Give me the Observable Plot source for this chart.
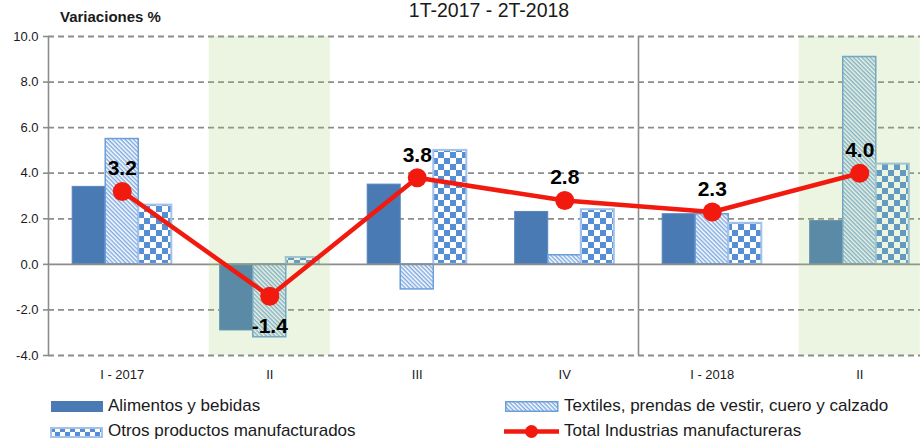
<!DOCTYPE html>
<html>
<head>
<meta charset="utf-8">
<script src="https://cdn.jsdelivr.net/npm/d3@7"></script>
<script src="https://cdn.jsdelivr.net/npm/@observablehq/plot@0.6"></script>
<style>
  html, body { margin: 0; padding: 0; background: #fff; }
  body { width: 920px; height: 442px; overflow: hidden; position: relative;
         font-family: "Liberation Sans", Arial, sans-serif; color: #1a1a1a; }
  #head { position: relative; height: 26px; }
  #ylab { position: absolute; left: 60px; top: 8px; font-size: 15px; font-weight: bold; line-height: 17px; }
  #title { position: absolute; left: 0; width: 978px; text-align: center; top: -1px; font-size: 19.5px; line-height: 22px; }
  #chart { width: 933px; height: 362px; overflow: visible; }
  #chart svg { display: block; overflow: visible; max-width: none !important; width: 933px !important; height: 362px !important; }
  .lg { position: absolute; font-size: 17px; line-height: 20px; white-space: nowrap; }
  .sw { position: absolute; box-sizing: border-box; }
</style>
</head>
<body>
<svg width="0" height="0" style="position:absolute">
  <defs>
    <pattern id="stripes" patternUnits="userSpaceOnUse" width="3" height="3" patternTransform="rotate(45)">
      <rect x="0" y="0" width="3" height="3" fill="#ffffff"></rect>
      <rect x="0" y="0" width="3" height="1.5" fill="#7faae0"></rect>
    </pattern>
    <pattern id="checker" patternUnits="userSpaceOnUse" width="12" height="12">
      <rect x="0" y="0" width="12" height="12" fill="#ffffff"></rect>
      <rect x="0" y="0" width="6" height="6" fill="#558ed5"></rect>
      <rect x="6" y="6" width="6" height="6" fill="#558ed5"></rect>
    </pattern>
    <pattern id="checkerSmall" patternUnits="userSpaceOnUse" width="10" height="10">
      <rect x="0" y="0" width="10" height="10" fill="#ffffff"></rect>
      <rect x="0" y="0" width="5" height="5" fill="#558ed5"></rect>
      <rect x="5" y="5" width="5" height="5" fill="#558ed5"></rect>
    </pattern>
  </defs>
</svg>

<div id="head">
  <div id="ylab">Variaciones %</div>
  <div id="title">1T-2017 - 2T-2018</div>
</div>
<div id="chart"></div>

<!-- legend -->
<svg class="sw" style="left:51px;top:401px" width="52" height="11"><rect x="0" y="0" width="52" height="11" fill="#4a7ab4"></rect></svg>
<div class="lg" style="left:108px;top:396px">Alimentos y bebidas</div>
<svg class="sw" style="left:50px;top:427px" width="53" height="11"><rect x="1" y="1" width="51" height="9" fill="url(#checkerSmall)" stroke="#a2c2ea" stroke-width="2"></rect></svg>
<div class="lg" style="left:108px;top:421px">Otros productos manufacturados</div>
<svg class="sw" style="left:505px;top:401px" width="54" height="11"><rect x="0.75" y="0.75" width="52" height="9.5" fill="url(#stripes)" stroke="#6b9fd9" stroke-width="1.5"></rect></svg>
<div class="lg" style="left:564px;top:396px">Textiles, prendas de vestir, cuero y calzado</div>
<svg class="sw" style="left:503px;top:424px" width="57" height="15"><line x1="1" y1="7.5" x2="56" y2="7.5" stroke="#f21a0e" stroke-width="4.5"></line><circle cx="28.5" cy="7.5" r="6.5" fill="#f21a0e"></circle></svg>
<div class="lg" style="left:564px;top:421px">Total Industrias manufactureras</div>

<script>
// ---- data ----
const categories = ["I - 2017", "II", "III", "IV", "I - 2018", "II"];
const alimentos  = [3.4, -2.9, 3.5, 2.3, 2.2, 1.9];
const textiles   = [5.5, -3.2, -1.1, 0.4, 2.2, 9.1];
const otros      = [2.6, 0.3, 5.0, 2.4, 1.8, 4.4];
const total      = [3.2, -1.4, 3.8, 2.8, 2.3, 4.0];
const shadedCategories = [1, 5];
const yTicks = [-4, -2, 0, 2, 4, 6, 8, 10];

// ---- layout helpers ----
const bw = 0.224;          // bar width in category units
const shadeHalf = 0.41;    // half-width of shaded band
const gridColor = "#8c8c8c";

const seriesRows = (values, k) => values.map((v, i) => ({i, v, x1: i + (k - 1.5) * bw, x2: i + (k - 0.5) * bw}));
const aRows = seriesRows(alimentos, 0);
const tRows = seriesRows(textiles, 1);
const oRows = seriesRows(otros, 2);
const totRows = total.map((v, i) => ({i, v}));
const fmt = d3.formatLocale({decimal: ".", thousands: ",", grouping: [3], currency: ["", ""], minus: "-"}).format(".1f");
const labelFont = "'Liberation Sans', Arial, sans-serif";

const chart = Plot.plot({
  width: 933,
  height: 362,
  marginLeft: 48,
  marginRight: 0,
  marginTop: 10,
  marginBottom: 33,
  x: {type: "linear", domain: [-0.5, 5.5]},
  y: {domain: [-4, 10]},
  style: {fontFamily: "'Liberation Sans', Arial, sans-serif", fontSize: "13px", background: "transparent", color: "#1a1a1a"},
  marks: [
    Plot.gridY(yTicks.filter(v => v !== 0), {stroke: gridColor, strokeOpacity: 1, strokeWidth: 1.8, strokeDasharray: "6,4"}),
    Plot.axisY({ticks: yTicks, tickFormat: fmt, tickSize: 5, tickPadding: 5, stroke: gridColor, strokeWidth: 1.6, fill: "#1a1a1a", label: null, fontSize: 13}),
    Plot.axisX({ticks: d3.range(categories.length), tickFormat: i => categories[i], tickSize: 0, tickPadding: 14, label: null, fontSize: 13, fill: "#1a1a1a"}),
    Plot.rect(aRows, {x1: "x1", x2: "x2", y1: 0, y2: "v", fill: "#4a7ab4", stroke: "#5585bf", strokeWidth: 1}),
    Plot.rect(tRows, {x1: "x1", x2: "x2", y1: 0, y2: "v", fill: "url(#stripes)", stroke: "#6b9fd9", strokeWidth: 1.5}),
    Plot.rect(oRows, {x1: "x1", x2: "x2", y1: 0, y2: "v", fill: "url(#checker)", stroke: "#a2c2ea", strokeWidth: 2}),
    Plot.ruleY([0], {stroke: gridColor, strokeWidth: 1.6}),
    Plot.ruleX([-0.5, 3.5], {y1: -4, y2: 10, stroke: gridColor, strokeWidth: 1.6}),
    Plot.rect(shadedCategories, {x1: i => i - shadeHalf, x2: i => i + shadeHalf, y1: -4, y2: 10, fill: "rgb(155,205,105)", fillOpacity: 0.2}),
    Plot.line(totRows, {x: "i", y: "v", stroke: "#f21a0e", strokeWidth: 4.5}),
    Plot.dot(totRows, {x: "i", y: "v", r: 9.5, fill: "#f21a0e", stroke: "none"}),
    Plot.text(totRows.filter(d => d.v >= 0), {x: "i", y: "v", text: d => fmt(d.v), dy: -23, fontSize: 21, fontWeight: "bold", fontFamily: labelFont, fill: "#000"}),
    Plot.text(totRows.filter(d => d.v < 0), {x: "i", y: "v", text: d => fmt(d.v), dy: 30, fontSize: 21, fontWeight: "bold", fontFamily: labelFont, fill: "#000"})
  ]
});
document.getElementById("chart").appendChild(chart);
</script>
</body>
</html>
